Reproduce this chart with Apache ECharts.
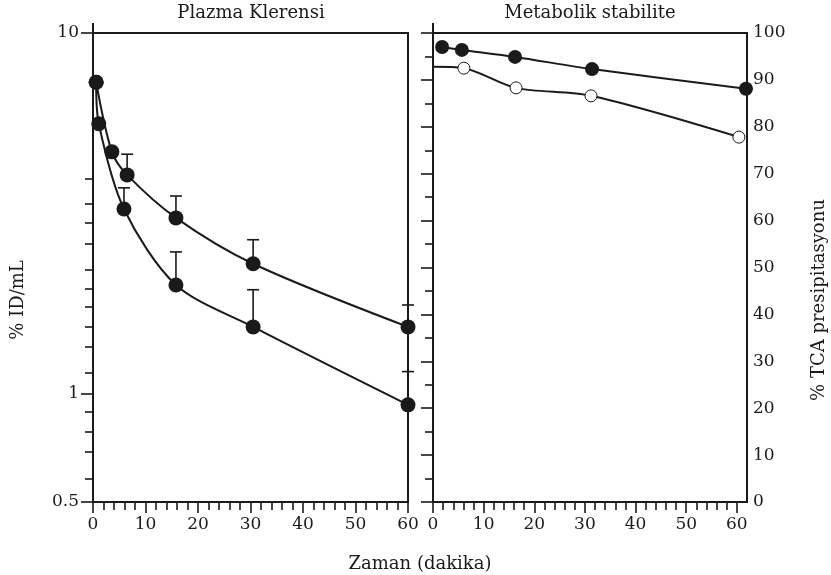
<!DOCTYPE html>
<html>
<head>
<meta charset="utf-8">
<script src="https://cdn.jsdelivr.net/npm/echarts@6/dist/echarts.min.js"></script>
<style>
html, body { margin: 0; padding: 0; background: #fff; }
#chart { width: 831px; height: 575px; }
</style>
</head>
<body>
<div id="chart"></div>
<script>
// Plazma klerensi, % ID/mL (log)
var klerensA = [[0.6, 7.3], [3.6, 4.68], [6.5, 4.04], [15.8, 3.07], [30.5, 2.29], [60, 1.53]];
var klerensB = [[0.6, 7.3], [1.1, 5.6], [5.9, 3.25], [15.8, 2.0], [30.5, 1.53], [60, 0.93]];
// hata cubuklari: [x, deger, ust]
var hataA = [[6.5, 4.04, 4.61], [15.8, 3.07, 3.53], [30.5, 2.29, 2.67], [60, 1.53, 1.76]];
var hataB = [[5.9, 3.25, 3.72], [15.8, 2.0, 2.47], [30.5, 1.53, 1.94], [60, 0.93, 1.15]];
// Metabolik stabilite, % TCA presipitasyonu
var tcaDolu = [[1.8, 97.0], [5.7, 96.4], [16.2, 94.9], [31.4, 92.3], [61.8, 88.1]];
var tcaBos = [[0, 92.8], [6.1, 92.5], [16.4, 88.3], [31.2, 86.6], [60.4, 77.8]];
// eksen degerleri (cizimdeki gibi)
var logLabels = [0.5, 1, 10];
var logMinor = [0.58, 0.69, 0.785, 0.89, 1.14, 1.35, 1.53, 1.74, 1.95, 2.21, 2.61, 2.97, 3.37, 3.95];
var zamanLabels = [0, 10, 20, 30, 40, 50, 60];
var zamanMinor = [2, 4, 6, 8, 12, 14, 16, 18, 22, 24, 26, 28, 32, 34, 36, 38, 42, 44, 46, 48, 52, 54, 56, 58];

var ink = '#1a1a1a';
var txt = { color: ink, fontFamily: 'DejaVu Serif', fontSize: 17 };
var nameFont = '18px "DejaVu Serif"';
var tickLine = { color: ink, width: 1.6 };

var chart = echarts.init(document.getElementById('chart'));

function errorBars(data, xi, yi) {
    return {
        type: 'custom',
        xAxisIndex: xi,
        yAxisIndex: yi,
        clip: false,
        z: 1,
        data: data,
        renderItem: function(params, api) {
            var lo = api.coord([api.value(0), api.value(1)]);
            var hi = api.coord([api.value(0), api.value(2)]);
            var style = { stroke: ink, lineWidth: 1.6 };
            return {
                type: 'group',
                children: [
                    { type: 'line', shape: { x1: lo[0], y1: lo[1], x2: hi[0], y2: hi[1] }, style: style },
                    { type: 'line', shape: { x1: hi[0] - 6, y1: hi[1], x2: hi[0] + 6, y2: hi[1] }, style: style }
                ]
            };
        }
    };
}

function lineSeries(data, xi, yi, size, open) {
    return {
        type: 'line',
        xAxisIndex: xi,
        yAxisIndex: yi,
        data: data,
        smooth: 0.3,
        clip: false,
        z: 3,
        symbol: 'circle',
        symbolSize: size,
        lineStyle: { color: ink, width: 2 },
        itemStyle: open ? { color: '#fff', borderColor: ink, borderWidth: 1 } : { color: ink, borderWidth: 0 },
        emphasis: { disabled: true }
    };
}

function label(text, x, y, rot) {
    return {
        type: 'text', x: x, y: y, rotation: rot || 0,
        style: { text: text, align: 'center', verticalAlign: 'middle', fill: ink, font: nameFont }
    };
}

var lineExt = { show: true, symbol: ['none', 'rect'], symbolSize: [2, 20], lineStyle: { color: ink, width: 2 } };

var option = {
    animation: false,
    backgroundColor: '#fff',
    grid: [
        { left: 93, top: 33, width: 315, height: 469, show: true, borderColor: ink, borderWidth: 2 },
        { left: 433, top: 33, width: 314, height: 469, show: true, borderColor: ink, borderWidth: 2 }
    ],
    xAxis: [{
        gridIndex: 0,
        type: 'value',
        min: 0,
        max: 60,
        interval: 10,
        axisLine: { lineStyle: { color: ink, width: 2 } },
        axisTick: { length: 11, lineStyle: tickLine },
        minorTick: { show: true, splitNumber: 5, length: 8, lineStyle: tickLine },
        axisLabel: Object.assign({ margin: 14 }, txt),
        splitLine: { show: false }
    }, {
        gridIndex: 1,
        type: 'value',
        position: 'bottom',
        min: 0,
        max: 62,
        axisLine: { lineStyle: { color: ink, width: 2 } },
        axisTick: { length: 11, customValues: zamanLabels, lineStyle: tickLine },
        axisLabel: Object.assign({ margin: 14, customValues: zamanLabels }, txt),
        splitLine: { show: false }
    }, {
        gridIndex: 1,
        type: 'value',
        position: 'bottom',
        min: 0,
        max: 62,
        axisLine: { show: false },
        axisTick: { length: 8, customValues: zamanMinor, lineStyle: tickLine },
        axisLabel: { show: false },
        splitLine: { show: false }
    }],
    yAxis: [{
        gridIndex: 0,
        type: 'log',
        logBase: 10,
        min: 0.5,
        max: 10,
        axisLine: lineExt,
        axisTick: { length: 12, customValues: logLabels, lineStyle: tickLine },
        axisLabel: Object.assign({ margin: 14, customValues: logLabels }, txt),
        splitLine: { show: false }
    }, {
        gridIndex: 1,
        type: 'value',
        position: 'right',
        min: 0,
        max: 100,
        interval: 10,
        axisLine: lineExt,
        axisTick: { inside: true, length: 12, lineStyle: tickLine },
        minorTick: { show: true, splitNumber: 2, length: 8, lineStyle: tickLine },
        axisLabel: Object.assign({ margin: 6 }, txt),
        splitLine: { show: false }
    }, {
        gridIndex: 1,
        type: 'value',
        position: 'left',
        min: 0,
        max: 100,
        axisLine: lineExt,
        axisTick: { show: false },
        axisLabel: { show: false },
        splitLine: { show: false }
    }, {
        gridIndex: 0,
        type: 'log',
        logBase: 10,
        position: 'left',
        min: 0.5,
        max: 10,
        axisLine: { show: false },
        axisTick: { length: 8, customValues: logMinor, lineStyle: tickLine },
        axisLabel: { show: false },
        splitLine: { show: false }
    }],
    graphic: [
        label('Plazma Klerensi', 251, 13),
        label('Metabolik stabilite', 590, 13),
        label('Zaman (dakika)', 420, 564),
        label('% ID/mL', 18, 300, Math.PI / 2),
        label('% TCA presipitasyonu', 819, 300, Math.PI / 2)
    ],
    series: [
        errorBars(hataA, 0, 0),
        errorBars(hataB, 0, 0),
        lineSeries(klerensA, 0, 0, 15, false),
        lineSeries(klerensB, 0, 0, 15, false),
        lineSeries(tcaDolu, 1, 1, 14, false),
        lineSeries(tcaBos.map(function(p, i) {
            return i === 0 ? { value: p, symbol: 'none' } : p;
        }), 1, 1, 12, true)
    ]
};

chart.setOption(option);
</script>
</body>
</html>
